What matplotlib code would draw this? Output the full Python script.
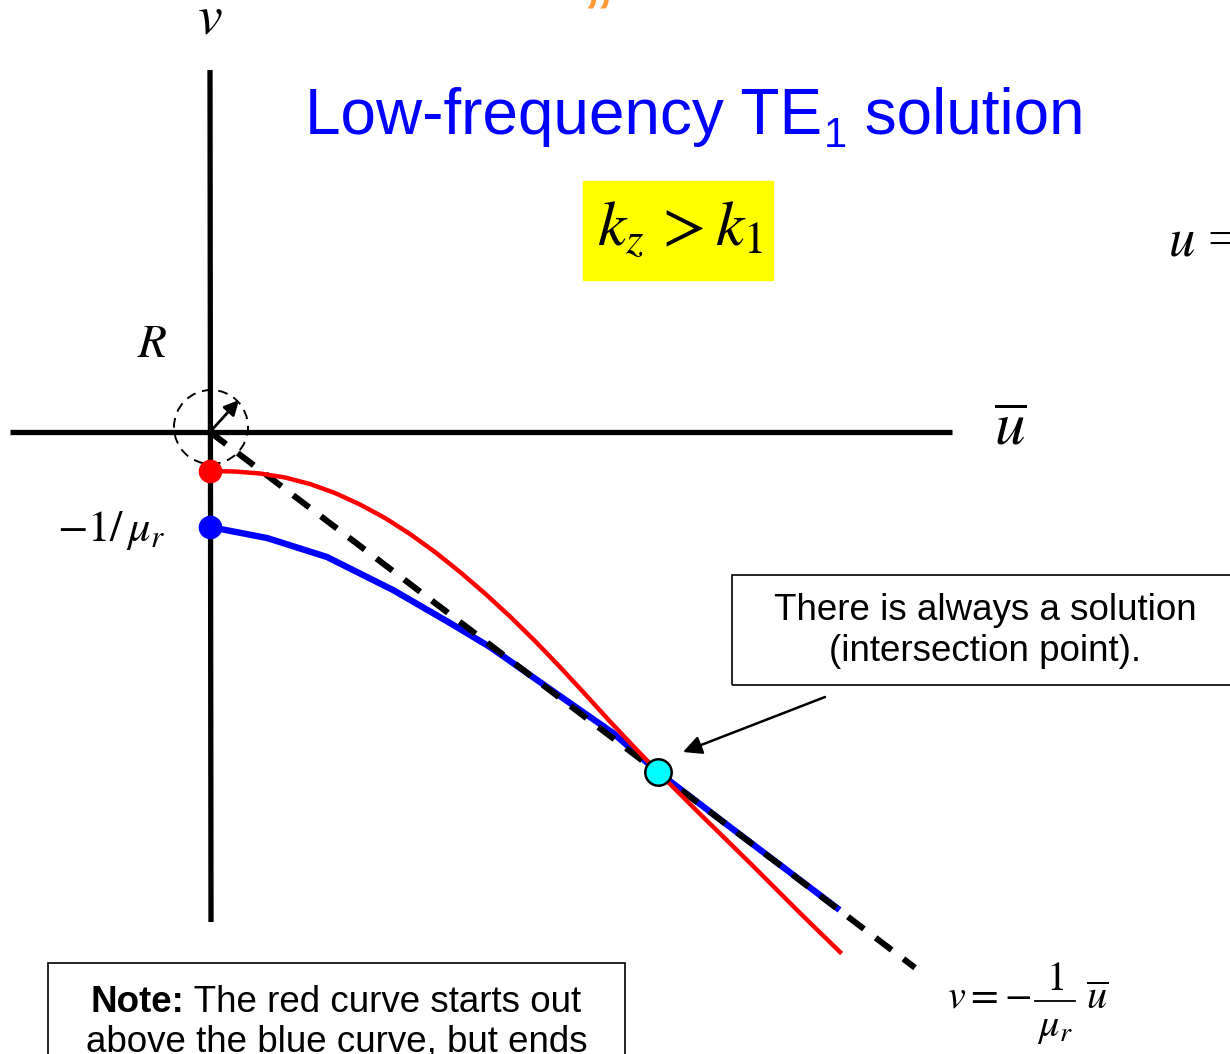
import matplotlib.pyplot as plt
from matplotlib.patches import Circle, Rectangle

plt.rcParams['font.family'] = ['Liberation Sans', 'DejaVu Sans']
plt.rcParams['mathtext.fontset'] = 'stix'

# red curve (starts at v = -0.39 on the v axis)
red_u = [0, 0.25, 0.5, 0.75, 1.0, 1.25, 1.5, 1.75, 2.0, 2.25, 2.5, 2.75,
         3.0, 3.25, 3.5, 3.75, 4.0, 4.25, 4.48, 4.9, 5.4, 5.9, 6.3]
red_v = [-0.39, -0.395, -0.415, -0.455, -0.52, -0.61, -0.725, -0.86, -1.02,
         -1.20, -1.40, -1.615, -1.845, -2.09, -2.35, -2.62, -2.895, -3.16,
         -3.40, -3.82, -4.31, -4.81, -5.20]

# blue curve (starts at -1/mu_r)
blue_u = [0, 0.57, 1.17, 1.83, 2.4, 2.8, 3.37, 4.03, 4.48, 5.2, 6.27]
blue_v = [-0.95, -1.06, -1.25, -1.58, -1.91, -2.15, -2.55, -3.01, -3.40, -3.95, -4.76]

# asymptote v = -u / mu_r
mu_r = 1.316
line_u = [0, 7.05]
line_v = [-u / mu_r for u in line_u]

# intersection point
sol_u = 4.48
sol_v = -3.40

fig = plt.figure(figsize=(12.3, 10.54), dpi=100)
ax = fig.add_axes([0, 0, 1, 1])
ax.set_xlim(-2.10, 10.20)
ax.set_ylim(-6.22, 4.32)
ax.axis('off')

# bits of the slide heading above
ax.text(3.88, 3.99, '\u201d', color='#FF9933', fontsize=44, weight='bold',
        ha='center', va='baseline')

# axes
ax.plot([-2.0, 7.42], [0, 0], color='k', lw=3.8, solid_capstyle='butt')
ax.plot([0, 0.01], [3.62, -4.90], color='k', lw=3.8, solid_capstyle='butt')

# small circle of radius R around the origin
ax.add_patch(Circle((0.01, 0.05), 0.37, fill=False, ec='k', lw=1.4,
                    ls=(0, (5, 3.5)), zorder=3))
ax.annotate('', xy=(0.29, 0.32), xytext=(0, 0),
            arrowprops=dict(arrowstyle='-|>', color='k', lw=2,
                            mutation_scale=22, shrinkA=0, shrinkB=0), zorder=4)

ax.plot(blue_u, blue_v, color='#0000FF', lw=4.6, zorder=3)
ax.plot(line_u, line_v, color='k', lw=4.4, ls=(0, (3.3, 2.4)), zorder=4)
ax.plot(red_u, red_v, color='#FF0000', lw=3.2, zorder=5)

ax.plot(red_u[0], red_v[0], 'o', color='#FF0000', ms=16, zorder=6)
ax.plot(blue_u[0], blue_v[0], 'o', color='#0000FF', ms=16, zorder=6)
ax.plot(sol_u, sol_v, 'o', color='#00FFFF', mec='k', mew=1.8, ms=19, zorder=7)

# axis labels
ax.text(0, 4.12, '$v$', fontsize=40, ha='center', va='center')
ax.text(-0.58, 0.87, '$R$', fontsize=34, ha='center', va='center')
ax.text(8.0, 0.03, r'$\overline{u}$', fontsize=44, ha='center', va='center')
ax.text(-0.99, -0.98, r'$-1/\,\mu_r$', fontsize=32, ha='center', va='center')
ax.text(9.58, 1.90, '$u$ =', fontsize=38, ha='left', va='center',
        family='Liberation Serif')

# title with subscript
t1 = ax.text(0.95, 2.98, 'Low-frequency TE', fontsize=46, color='#0000FF',
             ha='left', va='baseline')
t2 = ax.annotate('1', xy=(1, 0), xycoords=t1, xytext=(1, 0),
                 textcoords='offset points', fontsize=30, color='#0000FF',
                 ha='left', va='baseline')
ax.annotate(' solution', xy=(1, 2.98), xycoords=(t2, 'data'), fontsize=46,
            color='#0000FF', ha='left', va='baseline')

# k_z > k_1 on a yellow box
ax.add_patch(Rectangle((3.73, 1.52), 1.90, 0.99, color='#FFFF00', zorder=1))
ax.text(4.70, 2.02, r'$k_z\,>k_1$', fontsize=46, ha='center', va='center', zorder=2)

# solution callout
ax.add_patch(Rectangle((5.22, -2.53), 5.2, 1.10, fill=False, ec='k', lw=1.2))
ax.text(7.75, -1.99, 'There is always a solution\n(intersection point).',
        fontsize=26.5, ha='center', va='center', linespacing=1.2)
ax.annotate('', xy=(4.73, -3.20), xytext=(6.15, -2.65),
            arrowprops=dict(arrowstyle='-|>', color='k', lw=1.8,
                            mutation_scale=28, shrinkA=0, shrinkB=0))

# note box
ax.add_patch(Rectangle((-1.62, -6.6), 5.77, 1.29, fill=False, ec='k', lw=1.2))
n1 = ax.text(-1.20, -5.80, 'Note:', fontsize=26.5, weight='bold',
             ha='left', va='baseline')
ax.annotate(' The red curve starts out', xy=(1, -5.80), xycoords=(n1, 'data'),
            fontsize=26.5, ha='left', va='baseline')
ax.text(1.27, -6.19, 'above the blue curve, but ends', fontsize=26.5,
        ha='center', va='baseline')

# asymptote equation v = -(1/mu_r) u
ax.text(7.79, -5.76, '$v=-$', fontsize=29, ha='center', va='baseline')
ax.plot([8.25, 8.65], [-5.69, -5.69], color='k', lw=1.3)
ax.text(8.45, -5.58, '$1$', fontsize=29, ha='center', va='baseline')
ax.text(8.45, -6.04, r'$\mu_r$', fontsize=29, ha='center', va='baseline')
ax.text(8.87, -5.77, r'$\overline{u}$', fontsize=29, ha='center', va='baseline')

fig.savefig('out.png', dpi=100)
